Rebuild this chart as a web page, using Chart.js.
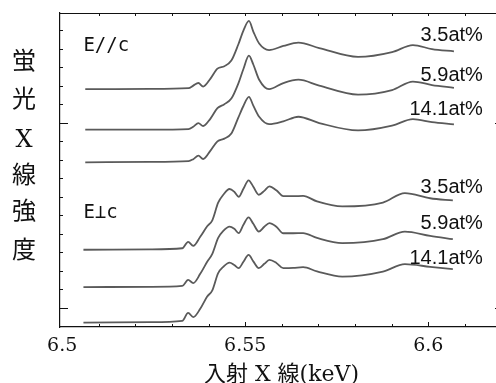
<!DOCTYPE html>
<html>
<head>
<meta charset="utf-8">
<script src="https://cdn.jsdelivr.net/npm/chart.js@4"></script>
<style>
  html, body { margin: 0; padding: 0; background: #fff; overflow: hidden; }
  #wrap { width: 512px; height: 383px; }
</style>
</head>
<body>
<div id="wrap"><canvas id="myChart" width="512" height="383"></canvas></div>
<script>
// incident energy (keV) for the E//c and E⊥c spectra
const energyPara = [6.5063, 6.5241, 6.5345, 6.5358, 6.5372, 6.5385, 6.5405, 6.5424, 6.5443, 6.5462, 6.5481, 6.5495, 6.5510, 6.5522, 6.5538, 6.5565, 6.5604, 6.5645, 6.5702, 6.5808, 6.5901, 6.5958, 6.6010, 6.6070];
const energyPerp = [6.5058, 6.5241, 6.5328, 6.5344, 6.5358, 6.5377, 6.5396, 6.5410, 6.5426, 6.5440, 6.5457, 6.5470, 6.5482, 6.5495, 6.5509, 6.5522, 6.5537, 6.5552, 6.5566, 6.5585, 6.5604, 6.5631, 6.5658, 6.5696, 6.5765, 6.5876, 6.5936, 6.6005, 6.6067];

// fluorescence intensity (offset, arb. units)
const para35  = [11.81, 11.82, 11.86, 12.00, 12.14, 11.95, 12.38, 12.92, 13.05, 13.35, 14.22, 14.97, 15.49, 14.92, 14.27, 13.92, 14.14, 14.32, 14.03, 13.55, 13.81, 14.19, 13.97, 13.85];
const para59  = [9.62, 9.62, 9.65, 9.78, 9.97, 9.82, 10.22, 10.78, 11.00, 11.30, 12.11, 12.90, 13.62, 13.14, 12.32, 11.81, 12.14, 12.32, 12.00, 11.51, 11.76, 12.22, 12.03, 11.88];
const para141 = [7.86, 7.88, 7.92, 8.03, 8.22, 8.04, 8.49, 8.99, 9.14, 9.41, 10.27, 10.90, 11.39, 10.92, 10.32, 9.92, 10.07, 10.32, 9.98, 9.58, 9.84, 10.19, 10.03, 9.91];
const perp35  = [3.14, 3.16, 3.22, 3.57, 3.35, 3.84, 4.41, 4.73, 5.68, 6.11, 6.42, 6.27, 6.00, 6.43, 6.89, 6.54, 6.11, 6.32, 6.56, 6.35, 6.03, 6.03, 6.05, 5.75, 5.48, 5.69, 6.20, 5.92, 5.80];
const perp59  = [1.12, 1.14, 1.19, 1.51, 1.34, 1.84, 2.49, 2.92, 3.78, 4.16, 4.39, 4.27, 4.04, 4.49, 4.89, 4.54, 4.12, 4.38, 4.58, 4.38, 4.03, 4.03, 4.04, 3.78, 3.50, 3.71, 4.12, 3.89, 3.71];
const perp141 = [-0.79, -0.77, -0.70, -0.27, -0.50, -0.05, 0.61, 0.95, 1.88, 2.22, 2.45, 2.32, 2.15, 2.49, 2.86, 2.51, 2.15, 2.38, 2.59, 2.43, 2.15, 2.16, 2.20, 1.97, 1.69, 1.96, 2.36, 2.22, 2.09];

const seriesLabels = ['3.5at%', '5.9at%', '14.1at%'];
const xTickLabels = [6.5, 6.55, 6.6];
const xMinorTicks = [6.51, 6.52, 6.53, 6.54, 6.55, 6.56, 6.57, 6.58, 6.59, 6.6, 6.61, 6.62];
const yMinorTicks = [-1, 0, 1, 2, 3, 4, 5, 6, 7, 8, 9, 10, 11, 12, 13, 14, 15];
const yMajorTicks = [0, 10];
const yTitleChars = ['蛍', '光', 'X', '線', '強', '度'];

// where the text annotations sit, in data units
const seriesLabelX = 6.6149;
const seriesLabelY = [14.70, 12.57, 10.73, 6.51, 4.54, 2.65];
const panelLabels = [
  { text: 'E//c', x: 6.5058, y: 14.14 },
  { text: 'E\u22A5c', x: 6.5058, y: 5.14 }
];

const lineColor = '#5a5a5a';
const inkColor = '#111';
const mixedFont = '"DejaVu Serif", "Noto Sans CJK JP"';

function toPoints(xs, ys) {
  return xs.map(function(e, i) { return { x: e, y: ys[i] }; });
}

function series(xs, ys) {
  return {
    data: toPoints(xs, ys),
    borderColor: lineColor,
    borderWidth: 1.8,
    pointRadius: 0,
    fill: false,
    cubicInterpolationMode: 'monotone'
  };
}

const framePlugin = {
  id: 'frame',
  afterDraw(chart) {
    const { ctx, chartArea: a, scales: { x, y } } = chart;
    ctx.save();
    ctx.strokeStyle = inkColor;
    ctx.lineWidth = 1.2;
    ctx.beginPath();
    ctx.moveTo(a.left, a.top + 0.5);
    ctx.lineTo(a.right + 0.5, a.top + 0.5);
    ctx.lineTo(a.right + 0.5, a.bottom);
    ctx.stroke();

    ctx.lineWidth = 1;
    ctx.beginPath();
    xMinorTicks.forEach(function(v) {
      const px = Math.round(x.getPixelForValue(v)) + 0.5;
      const len = xTickLabels.includes(v) ? 5 : 3;
      ctx.moveTo(px, a.bottom);
      ctx.lineTo(px, a.bottom - len);
      ctx.moveTo(px, a.top);
      ctx.lineTo(px, a.top + 3);
    });
    yMinorTicks.forEach(function(v) {
      const py = Math.round(y.getPixelForValue(v)) + 0.5;
      const len = yMajorTicks.includes(v) ? 8 : 3;
      ctx.moveTo(a.left, py);
      ctx.lineTo(a.left + len, py);
      ctx.moveTo(a.right, py);
      ctx.lineTo(a.right - len, py);
    });
    ctx.stroke();

    // stacked vertical y title
    ctx.fillStyle = inkColor;
    ctx.font = '24px ' + mixedFont;
    ctx.textAlign = 'center';
    ctx.textBaseline = 'middle';
    const centers = [63, 100.5, 141, 177, 212.5, 251.5];
    yTitleChars.forEach(function(ch, i) {
      ctx.fillText(ch, 24, centers[i]);
    });
    ctx.restore();
  }
};

const labelPlugin = {
  id: 'labels',
  afterDatasetsDraw(chart) {
    const { ctx, scales: { x, y } } = chart;
    ctx.save();
    ctx.fillStyle = inkColor;
    ctx.textBaseline = 'middle';
    ctx.font = '20px "Liberation Sans", Arial, sans-serif';
    ctx.textAlign = 'right';
    seriesLabelY.forEach(function(v, i) {
      ctx.fillText(seriesLabels[i % 3], x.getPixelForValue(seriesLabelX), y.getPixelForValue(v));
    });
    ctx.font = '19px "DejaVu Sans Mono", monospace';
    ctx.textAlign = 'left';
    panelLabels.forEach(function(p) {
      ctx.fillText(p.text, x.getPixelForValue(p.x), y.getPixelForValue(p.y));
    });
    ctx.restore();
  }
};

const ctx = document.getElementById('myChart');

new Chart(ctx, {
  type: 'line',
  data: {
    datasets: [
      series(energyPara, para35),
      series(energyPara, para59),
      series(energyPara, para141),
      series(energyPerp, perp35),
      series(energyPerp, perp59),
      series(energyPerp, perp141)
    ]
  },
  options: {
    responsive: false,
    animation: false,
    devicePixelRatio: 1,
    layout: { padding: { top: 13, right: 9, left: 0, bottom: 0 } },
    plugins: {
      legend: { display: false },
      tooltip: { enabled: false }
    },
    scales: {
      x: {
        type: 'linear',
        min: 6.4994,
        max: 6.6204,
        afterBuildTicks: function(scale) {
          scale.ticks = xTickLabels.map(function(v) { return { value: v }; });
        },
        afterFit: function(scale) { scale.height = 56; },
        ticks: {
          autoSkip: false,
          maxRotation: 0,
          padding: 8,
          color: inkColor,
          font: { family: 'DejaVu Serif', size: 19 },
          callback: function(v) { return String(v); }
        },
        grid: { drawOnChartArea: false, drawTicks: false },
        border: { color: inkColor, width: 1.2 },
        title: {
          display: true,
          text: '入射 X 線(keV)',
          color: inkColor,
          font: { family: mixedFont, size: 22, lineHeight: 1 },
          padding: { top: 0, bottom: -3 }
        }
      },
      y: {
        type: 'linear',
        min: -1.03,
        max: 15.92,
        afterFit: function(scale) { scale.width = 60; },
        ticks: { display: false },
        grid: { drawOnChartArea: false, drawTicks: false },
        border: { color: inkColor, width: 1.2 }
      }
    }
  },
  plugins: [framePlugin, labelPlugin]
});
</script>
</body>
</html>
